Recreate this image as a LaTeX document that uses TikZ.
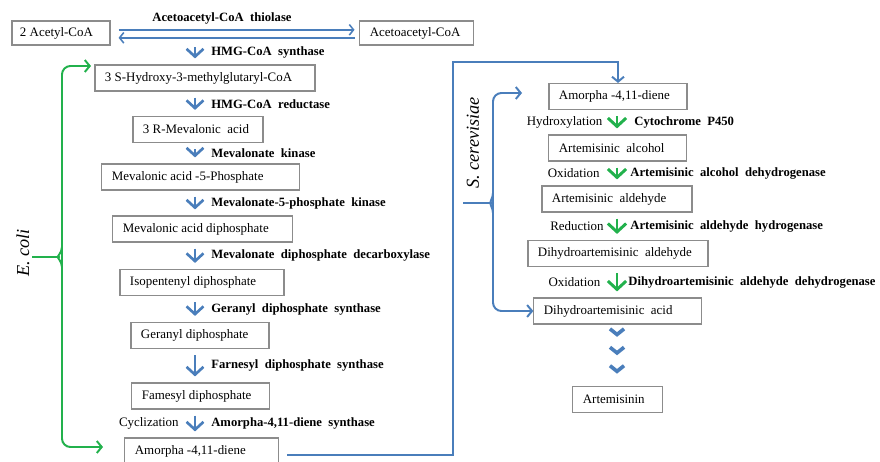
\documentclass[tikz,border=0pt]{standalone}
\usepackage{fontspec}
\setmainfont{Liberation Serif}
\usetikzlibrary{arrows.meta,positioning,calc,decorations.markings}
\definecolor{Flow}{HTML}{4A7EBB}
\definecolor{Leaf}{HTML}{22B14C}
\definecolor{Frame}{HTML}{8C8C8C}
\tikzset{
 block/.style={draw=Frame, line width=0.8pt, fill=white, minimum height=0.65cm, inner xsep=0.25cm, inner ysep=2pt, align=flush left, font=\fontsize{9.2}{11}\selectfont},
 enzyme/.style={font={\fontsize{9}{10}\selectfont\bfseries\spaceskip=0.5em\relax}, inner sep=0pt},
 stepnote/.style={font=\fontsize{9.2}{11}\selectfont, inner sep=0pt},
 species/.style={font=\fontsize{13}{15}\selectfont\itshape, inner sep=0pt, rotate=90},
 flow/.style={-{Straight Barb[length=3.5pt,width=8.5pt]}, line width=1.4pt, draw=Flow},
 stepflow/.style={flow, line width=1.9pt, -{Straight Barb[length=5.5pt,width=12pt]}, shorten <=0.15cm, shorten >=0.15cm},
 leafflow/.style={stepflow, draw=Leaf, line width=2.1pt, -{Straight Barb[length=6pt,width=13pt]}},
 thinflow/.style={flow, line width=1.1pt, -{Straight Barb[length=3pt,width=7.5pt]}, shorten <=0.2cm, shorten >=0.12cm},
 bracket/.style={line width=1.4pt, rounded corners=6pt},
 chevrons/.style={decorate, decoration={markings,
   mark=at position 0.2 with {\arrow{Straight Barb[length=4pt,width=10pt,line width=2.6pt,color=Flow]}},
   mark=at position 0.5 with {\arrow{Straight Barb[length=4pt,width=10pt,line width=2.6pt,color=Flow]}},
   mark=at position 0.8 with {\arrow{Straight Barb[length=4pt,width=10pt,line width=2.6pt,color=Flow]}}}}
}
\begin{document}
\begin{tikzpicture}[x=0.025cm, y=-0.025cm]
\useasboundingbox (0,0) rectangle (880,461);
\coordinate (spine) at (195,0);
\coordinate (rspine) at (617,0);
\node[block, text width=2.05cm, inner xsep=0.2cm, minimum height=0.6cm] (acetyl) at (61,33) {2 Acetyl-CoA};
\node[block, text width=2.33cm, minimum height=0.6cm] (acetoacetyl) at (416.5,33) {Acetoacetyl-CoA};
\node[block, text width=5cm] (hmg) at (205,78) {3 S-Hydroxy-3-methylglutaryl-CoA};
\node[block, text width=2.75cm] (mva) at (198,129.5) {3 R-Mevalonic\ \ acid};
\node[block, text width=4.43cm] (mvap) at (200.5,177) {Mevalonic acid -5-Phosphate};
\node[block, text width=3.98cm] (mvapp) at (202.5,229) {Mevalonic acid diphosphate};
\node[block, text width=3.6cm] (ipp) at (202,282.5) {Isopentenyl diphosphate};
\node[block, text width=2.95cm] (gpp) at (200,335.5) {Geranyl diphosphate};
\node[block, text width=2.93cm] (fpp) at (200.5,396) {Famesyl diphosphate};
\node[block, text width=3.33cm] (amL) at (201.5,451) {Amorpha -4,11-diene};
\node[block, text width=2.95cm] (amR) at (618,96.5) {Amorpha -4,11-diene};
\node[block, text width=2.93cm] (alc) at (617.5,148) {Artemisinic\ \ alcohol};
\node[block, text width=3.25cm] (ald) at (617,199) {Artemisinic\ \ aldehyde};
\node[block, text width=4cm] (dhald) at (618,253.5) {Dihydroartemisinic\ \ aldehyde};
\node[block, text width=3.68cm] (dhaa) at (617.5,311) {Dihydroartemisinic\ \ acid};
\node[block, text width=1.73cm] (art) at (617.5,399.5) {Artemisinin};
\node[enzyme] (thiolase) at (222,18) {Acetoacetyl-CoA thiolase};
\draw[thinflow] ([yshift=0.08cm]acetyl.east) -- ([yshift=0.08cm]acetoacetyl.west);
\draw[thinflow, shorten <=0.12cm, shorten >=0.2cm] ([yshift=-0.12cm]acetoacetyl.west) -- ([yshift=-0.12cm]acetyl.east);
\coordinate (split) at (195,41);
\draw[stepflow] (split) -- (spine |- hmg.north) node[midway, right=0.375cm, enzyme] {HMG-CoA synthase};
\draw[stepflow] (spine |- hmg.south) -- (spine |- mva.north) node[midway, right=0.375cm, enzyme] {HMG-CoA reductase};
\draw[stepflow] (spine |- mva.south) -- (spine |- mvap.north) node[midway, right=0.375cm, enzyme] {Mevalonate kinase};
\draw[stepflow] (spine |- mvap.south) -- (spine |- mvapp.north) node[midway, right=0.375cm, enzyme] {Mevalonate-5-phosphate kinase};
\draw[stepflow] (spine |- mvapp.south) -- (spine |- ipp.north) node[midway, right=0.375cm, enzyme] {Mevalonate diphosphate decarboxylase};
\draw[stepflow] (spine |- ipp.south) -- (spine |- gpp.north) node[midway, right=0.375cm, enzyme] {Geranyl diphosphate synthase};
\draw[stepflow] (spine |- gpp.south) -- (spine |- fpp.north) node[midway, right=0.375cm, enzyme] {Farnesyl diphosphate synthase};
\draw[stepflow] (spine |- fpp.south) -- (spine |- amL.north) node[midway, right=0.375cm, enzyme] {Amorpha-4,11-diene synthase} node[midway, left=0.375cm, stepnote] {Cyclization};
\draw[leafflow] (rspine |- amR.south) -- (rspine |- alc.north) node[midway, right=0.4cm, enzyme] {Cytochrome P450} node[midway, left=0.33cm, stepnote] {Hydroxylation};
\draw[leafflow] (rspine |- alc.south) -- (rspine |- ald.north) node[midway, right=0.3cm, enzyme] {Artemisinic alcohol dehydrogenase} node[midway, left=0.4cm, stepnote] {Oxidation};
\draw[leafflow] (rspine |- ald.south) -- (rspine |- dhald.north) node[midway, right=0.3cm, enzyme] {Artemisinic aldehyde hydrogenase} node[midway, left=0.3cm, stepnote] {Reduction};
\draw[leafflow] (rspine |- dhald.south) -- (rspine |- dhaa.north) node[midway, right=0.25cm, enzyme] {Dihydroartemisinic aldehyde dehydrogenase} node[midway, left=0.38cm, stepnote] {Oxidation};
\path[chevrons] (rspine |- dhaa.south) -- (rspine |- art.north);
\coordinate (loop) at (453,62);
\draw[flow] ([xshift=0.22cm,yshift=-0.1cm]amL.east) -| (loop) -| (amR.north);
\node[species] (ecoli) at (23,253) {E. coli};
\coordinate (ecTip) at (32,257);
\coordinate (ecTop) at (91,66);
\coordinate (ecEnd) at (103,447);
\draw[flow, bracket, draw=Leaf] (62,257) |- (ecTop);
\draw[flow, bracket, draw=Leaf] (62,257) |- (ecEnd);
\draw[bracket, draw=Leaf] (ecTip) -- ++(18,0) to[out=0,in=-90] ++(12,-10);
\draw[bracket, draw=Leaf] (ecTip) -- ++(18,0) to[out=0,in=90] ++(12,10);
\node[species] (scere) at (473,143) {S. cerevisiae};
\coordinate (scTip) at (463,203);
\coordinate (scTop) at (522,93);
\draw[flow, bracket] (493,203) |- (scTop);
\draw[flow, bracket] (493,203) |- (dhaa.west);
\draw[bracket, draw=Flow] (scTip) -- ++(20,0) to[out=0,in=-90] ++(10,-10);
\draw[bracket, draw=Flow] (scTip) -- ++(20,0) to[out=0,in=90] ++(10,10);
\end{tikzpicture}
\end{document}
